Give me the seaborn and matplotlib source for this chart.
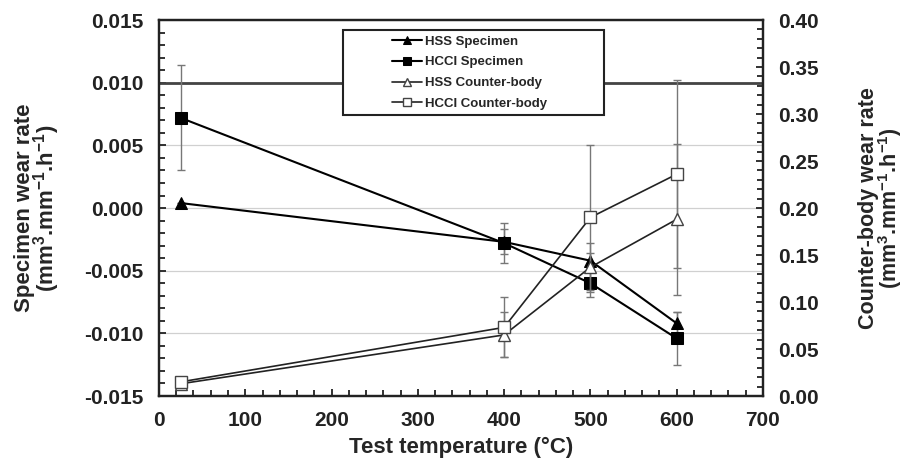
import matplotlib
matplotlib.use("Agg")
import matplotlib.pyplot as plt
import seaborn as sns
from matplotlib.patches import Rectangle
from matplotlib.ticker import MultipleLocator, FormatStrFormatter

# data
temps = [25, 400, 500, 600]
hss_spec = [0.0004, -0.0027, -0.0042, -0.0092]
hss_spec_err = [0.0, 0.0010, 0.0006, 0.0009]
hcci_spec = [0.0072, -0.0028, -0.0060, -0.0104]
hcci_spec_err = [0.0042, 0.0016, 0.0011, 0.0021]
hss_cb = [0.013, 0.065, 0.137, 0.188]
hss_cb_err = [0.002, 0.024, 0.026, 0.080]
hcci_cb = [0.015, 0.073, 0.190, 0.236]
hcci_cb_err = [0.003, 0.032, 0.077, 0.100]

left_ticks = [-0.015, -0.010, -0.005, 0.000, 0.005, 0.010, 0.015]
right_ticks = [0.00, 0.05, 0.10, 0.15, 0.20, 0.25, 0.30, 0.35, 0.40]
x_ticks = [0, 100, 200, 300, 400, 500, 600, 700]

sns.set_style("white")
plt.rcParams['font.family'] = ['Liberation Sans', 'DejaVu Sans']
plt.rcParams['font.weight'] = 'bold'
plt.rcParams['axes.unicode_minus'] = False
plt.rcParams['mathtext.fontset'] = 'custom'
plt.rcParams['mathtext.rm'] = 'Liberation Sans:bold'
plt.rcParams['mathtext.it'] = 'Liberation Sans:bold'
plt.rcParams['mathtext.bf'] = 'Liberation Sans:bold'
plt.rcParams['mathtext.default'] = 'rm'

fig = plt.figure(figsize=(9.11, 4.67), dpi=100)
ax = fig.add_axes([0.1745, 0.152, 0.663, 0.805])
ax2 = ax.twinx()

err_kw = dict(fmt='none', ecolor='#777777', elinewidth=1, capsize=3, capthick=1, zorder=1.5)

# specimen (left axis)
ax.errorbar(temps, hss_spec, yerr=hss_spec_err, **err_kw)
ax.errorbar(temps, hcci_spec, yerr=hcci_spec_err, **err_kw)
sns.lineplot(x=temps, y=hss_spec, ax=ax, color='black', lw=1.5, marker='^', markersize=8.5,
             markerfacecolor='black', markeredgecolor='black', label='HSS Specimen')
sns.lineplot(x=temps, y=hcci_spec, ax=ax, color='black', lw=1.5, marker='s', markersize=8.5,
             markerfacecolor='black', markeredgecolor='black', label='HCCI Specimen')

# counter-body (right axis)
ax2.errorbar(temps, hss_cb, yerr=hss_cb_err, **err_kw)
ax2.errorbar(temps, hcci_cb, yerr=hcci_cb_err, **err_kw)
sns.lineplot(x=temps, y=hss_cb, ax=ax2, color='#222222', lw=1.2, marker='^', markersize=8.5,
             markerfacecolor='white', markeredgecolor='#444444', markeredgewidth=1, label='HSS Counter-body')
sns.lineplot(x=temps, y=hcci_cb, ax=ax2, color='#222222', lw=1.2, marker='s', markersize=8.5,
             markerfacecolor='white', markeredgecolor='#444444', markeredgewidth=1, label='HCCI Counter-body')

# axes
ax.set_xlim(x_ticks[0], x_ticks[-1])
ax.set_ylim(left_ticks[0], left_ticks[-1])
ax2.set_ylim(right_ticks[0], right_ticks[-1])
ax.set_xticks(x_ticks)
ax.set_yticks(left_ticks)
ax2.set_yticks(right_ticks)
ax.xaxis.set_minor_locator(MultipleLocator(20))
ax.yaxis.set_minor_locator(MultipleLocator(0.001))
ax2.yaxis.set_minor_locator(MultipleLocator(0.01))
ax.yaxis.set_major_formatter(FormatStrFormatter('%.3f'))
ax2.yaxis.set_major_formatter(FormatStrFormatter('%.2f'))

ax.tick_params(axis='both', which='both', direction='in', labelsize=15, width=1.3, colors='#222222')
ax.tick_params(axis='both', which='major', length=5, pad=11)
ax.tick_params(axis='both', which='minor', length=4)
ax.tick_params(axis='y', which='both', left=True, right=False)
ax.tick_params(axis='x', which='both', bottom=True, top=False)
ax2.tick_params(axis='y', which='both', direction='in', labelsize=15, width=1.3, colors='#222222',
                right=True, left=False)
ax2.tick_params(axis='y', which='major', length=5, pad=11)
ax2.tick_params(axis='y', which='minor', length=4)

ax.yaxis.grid(True, color='#d0d0d0', lw=0.9)
ax.xaxis.grid(False)
ax.axhline(left_ticks[5], color='#444444', lw=2, zorder=1)

for a in (ax, ax2):
    for s in a.spines.values():
        s.set_color('#222222')
        s.set_linewidth(1.6)

ax.set_xlabel('Test temperature (°C)', fontsize=16, fontweight='bold', labelpad=5)
ax.set_ylabel('Specimen wear rate\n(mm$^{3}$.mm$^{-1}$.h$^{-1}$)', fontsize=16,
              fontweight='bold', linespacing=0.85)
ax.yaxis.set_label_coords(-0.16, 0.5)
ax2.set_ylabel('Counter-body wear rate\n(mm$^{3}$.mm$^{-1}$.h$^{-1}$)', fontsize=15.5,
               fontweight='bold', linespacing=0.85)
ax2.yaxis.set_label_coords(1.158, 0.5)

# legend
h1, l1 = ax.get_legend_handles_labels()
h2, l2 = ax2.get_legend_handles_labels()
ax.get_legend().remove()
ax2.get_legend().remove()
ax2.add_patch(Rectangle((0.305, 0.747), 0.432, 0.226, transform=ax.transAxes,
                        facecolor='white', edgecolor='#222222', lw=1.5, zorder=5))
leg = ax2.legend(h1 + h2, l1 + l2, loc='center', bbox_to_anchor=(0.514, 0.86),
                 bbox_transform=ax.transAxes, frameon=False, fontsize=9.5, markerscale=0.75,
                 handlelength=2.3, handletextpad=0.2, labelspacing=0.65, borderpad=0.2)
leg.set_zorder(6)
for t in leg.get_texts():
    t.set_fontweight('bold')

fig.savefig('out.png', dpi=100)
